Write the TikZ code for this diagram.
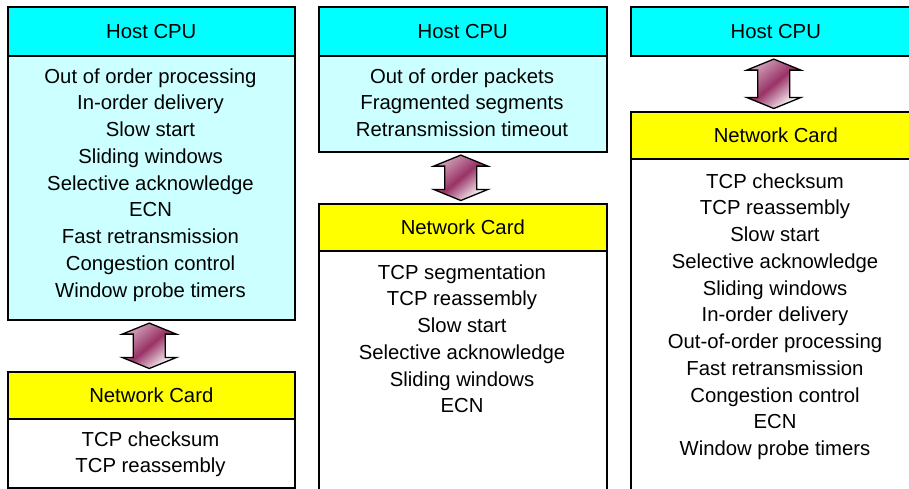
\documentclass[tikz,border=0pt]{standalone}
\usepackage{fontspec}
\setmainfont{Liberation Sans}
\usetikzlibrary{calc}
\definecolor{hostcyan}{HTML}{00FFFF}
\definecolor{bodycyan}{HTML}{CCFFFF}
\definecolor{ncyellow}{HTML}{FFFF00}
\definecolor{maroonc}{HTML}{993366}
\begin{document}
\begin{tikzpicture}[x=1pt,y=-1pt,
  box/.style={draw=black, line width=1.6pt, inner sep=0pt, anchor=north west,
    font=\fontsize{20.3}{26.75}\selectfont},
  hostbox/.style={box, fill=hostcyan},
  hostbody/.style={box, fill=bodycyan},
  nicbox/.style={box, fill=ncyellow},
  nicbody/.style={box, fill=white},
  item/.style={anchor=base, inner sep=0pt, font=\fontsize{20.3}{26.75}\selectfont},
  dblarrow/.style={draw=black, line width=1.3pt, line join=miter,
    top color=maroonc!45, bottom color=white, middle color=maroonc, shading angle=40}
]
\useasboundingbox (0,0) rectangle (909,488);
\clip (0,0) rectangle (909,488);

% ---------- Column 1 ----------
\node[hostbody, minimum width=287pt, minimum height=264pt] (body1) at (7,55) {};
\node[hostbox, minimum width=287pt, minimum height=49pt] (hdr1) at (7,6) {Host CPU};
\node[nicbody, minimum width=287pt, minimum height=69pt] (ncbody1) at (7,418) {};
\node[nicbox, minimum width=287pt, minimum height=47pt] (nc1) at (7,371) {Network Card};
\foreach \t [count=\i from 0] in {Out of order processing, In-order delivery, Slow start,
  Sliding windows, Selective acknowledge, ECN, Fast retransmission,
  Congestion control, Window probe timers}
  \node[item] (ca\i) at (150.5,{83+26.75*\i}) {\t};
\foreach \t [count=\i from 0] in {TCP checksum, TCP reassembly}
  \node[item] (cb\i) at (150.5,{446+26.75*\i}) {\t};

% ---------- Column 2 ----------
\node[hostbody, minimum width=288pt, minimum height=96pt] (body2) at (318,55) {};
\node[hostbox, minimum width=288pt, minimum height=49pt] (hdr2) at (318,6) {Host CPU};
\node[nicbody, minimum width=288pt, minimum height=260pt] (ncbody2) at (318,250) {};
\node[nicbox, minimum width=288pt, minimum height=47pt] (nc2) at (318,203) {Network Card};
\foreach \t [count=\i from 0] in {Out of order packets, Fragmented segments, Retransmission timeout}
  \node[item] (cc\i) at (462,{83+26.75*\i}) {\t};
\foreach \t [count=\i from 0] in {TCP segmentation, TCP reassembly, Slow start,
  Selective acknowledge, Sliding windows, ECN}
  \node[item] (cd\i) at (462,{279+26.75*\i}) {\t};

% ---------- Column 3 ----------
\node[hostbox, minimum width=290pt, minimum height=49pt] (hdr3) at (630,6) {Host CPU};
\node[nicbody, minimum width=290pt, minimum height=350pt] (ncbody3) at (630,158) {};
\node[nicbox, minimum width=290pt, minimum height=47pt] (nc3) at (630,111) {Network Card};
\foreach \t [count=\i from 0] in {TCP checksum, TCP reassembly, Slow start,
  Selective acknowledge, Sliding windows, In-order delivery, Out-of-order processing,
  Fast retransmission, Congestion control, ECN, Window probe timers}
  \node[item] (ce\i) at (775,{188+26.75*\i}) {\t};

% ---------- double arrows ----------
\foreach \a/\b in {body1/nc1, body2/nc2, hdr3/nc3}{
  \path[dblarrow] let \p1=($(\a.south)+(-2,2.5)$), \p2=($(\b.north)+(-2,-2.5)$) in
    (\x1,\y1) -- (\x1+27pt,\y1-11pt) -- (\x1+16pt,\y1-11pt) -- (\x1+16pt,\y2+11pt)
    -- (\x1+27pt,\y2+11pt) -- (\x1,\y2) -- (\x1-27pt,\y2+11pt) -- (\x1-16pt,\y2+11pt)
    -- (\x1-16pt,\y1-11pt) -- (\x1-27pt,\y1-11pt) -- cycle;
}
\end{tikzpicture}
\end{document}
